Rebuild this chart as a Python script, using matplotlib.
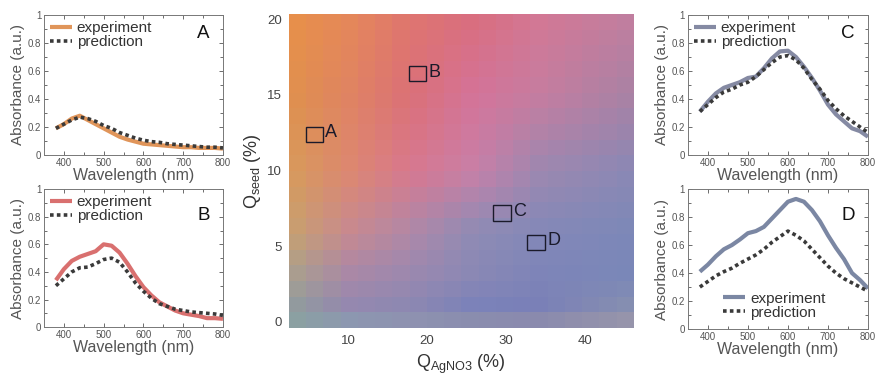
import numpy as np
import matplotlib
matplotlib.use("Agg")
import matplotlib.pyplot as plt
from matplotlib.colors import to_rgb
from matplotlib.patches import Rectangle

plt.rcParams['font.family'] = ['Liberation Sans', 'DejaVu Sans']
plt.rcParams['mathtext.fontset'] = 'custom'
plt.rcParams['mathtext.rm'] = 'Liberation Sans'
plt.rcParams['mathtext.it'] = 'Liberation Sans'

# ---------------- data ----------------
wavelength = [380, 400, 420, 440, 460, 480, 500, 520, 540, 560, 580, 600,
              620, 640, 660, 680, 700, 720, 740, 760, 780, 800]

A_exp = [0.19, 0.22, 0.26, 0.28, 0.25, 0.22, 0.19, 0.16, 0.13, 0.11, 0.095, 0.08,
         0.075, 0.07, 0.065, 0.06, 0.055, 0.055, 0.05, 0.05, 0.05, 0.045]
A_pred = [0.19, 0.22, 0.25, 0.27, 0.26, 0.24, 0.21, 0.19, 0.16, 0.14, 0.12, 0.105,
          0.095, 0.09, 0.08, 0.075, 0.07, 0.065, 0.06, 0.055, 0.055, 0.05]

B_exp = [0.34, 0.42, 0.48, 0.51, 0.53, 0.55, 0.60, 0.59, 0.54, 0.46, 0.37, 0.29,
         0.23, 0.18, 0.15, 0.12, 0.10, 0.09, 0.08, 0.065, 0.065, 0.06]
B_pred = [0.30, 0.35, 0.40, 0.43, 0.435, 0.46, 0.49, 0.50, 0.47, 0.40, 0.32, 0.26,
          0.21, 0.17, 0.15, 0.13, 0.12, 0.11, 0.105, 0.10, 0.095, 0.085]

C_exp = [0.31, 0.38, 0.44, 0.48, 0.50, 0.52, 0.55, 0.56, 0.62, 0.69, 0.74, 0.745,
         0.70, 0.63, 0.55, 0.46, 0.36, 0.29, 0.24, 0.19, 0.17, 0.13]
C_pred = [0.31, 0.36, 0.41, 0.45, 0.47, 0.50, 0.52, 0.56, 0.61, 0.66, 0.70, 0.71,
          0.68, 0.62, 0.54, 0.47, 0.39, 0.33, 0.28, 0.24, 0.20, 0.16]

D_exp = [0.41, 0.46, 0.52, 0.57, 0.60, 0.64, 0.685, 0.70, 0.73, 0.79, 0.85, 0.91,
         0.93, 0.91, 0.85, 0.77, 0.67, 0.58, 0.50, 0.40, 0.35, 0.29]
D_pred = [0.30, 0.34, 0.38, 0.41, 0.435, 0.47, 0.50, 0.53, 0.57, 0.62, 0.66, 0.70,
          0.67, 0.63, 0.57, 0.51, 0.45, 0.40, 0.36, 0.33, 0.30, 0.27]

# heatmap colour anchors (rows from top y=20 to bottom, columns left to right)
map_x = [3, 10, 18, 26, 34, 46]
map_y = [20, 15, 10, 6, 3, 1, -0.4]
map_colors = [
    ['#E8904A', '#E5885A', '#DF7570', '#D96E80', '#D37895', '#C07FA0'],
    ['#E0904E', '#E08462', '#DB7078', '#D4749A', '#C67DA0', '#A882A5'],
    ['#D89A5C', '#DD8870', '#D87890', '#C880A8', '#9E88B0', '#8A88B5'],
    ['#C8A070', '#C88A90', '#B088A8', '#8E8CB5', '#8489B8', '#7D88B8'],
    ['#A8A090', '#A888A8', '#9A88B0', '#8A88B5', '#7E84B8', '#7A88B8'],
    ['#909C9E', '#9488B0', '#8C88B2', '#7A82BA', '#7A80B8', '#8890B0'],
    ['#88A4A4', '#88A0B0', '#9098B0', '#9494A8', '#9490A8', '#A098A8'],
]

box_labels = ['A', 'B', 'C', 'D']
box_x = [4.6, 17.7, 28.4, 32.7]
box_y = [11.9, 15.9, 6.7, 4.75]
box_w = 2.2
box_h = 1.0

xticks_map = [10, 20, 30, 40]
yticks_map = [0, 5, 10, 15, 20]

# ---------------- figure ----------------
fig = plt.figure(figsize=(8.83, 3.76), dpi=100)

grey = '#555555'
pred_col = '#3a3a3a'


def spectrum_panel(rect, exp, pred, col, letter, legend_loc, letter_y):
    ax = fig.add_axes(rect)
    ax.plot(wavelength, exp, color=col, lw=3.0, solid_capstyle='butt', label='experiment')
    ax.plot(wavelength, pred, color=pred_col, lw=2.6, linestyle=(0, (1, 0.9)), label='prediction')
    ax.set_xlim(350, 800)
    ax.set_ylim(0, 1)
    ax.set_xticks([400, 500, 600, 700, 800])
    ax.set_xticks([450, 550, 650, 750], minor=True)
    ax.set_yticks([0, 0.2, 0.4, 0.6, 0.8, 1])
    ax.set_yticklabels(['0', '0.2', '0.4', '0.6', '0.8', '1'])
    ax.set_yticks(np.arange(0.1, 1.0, 0.2), minor=True)
    ax.tick_params(which='both', direction='in', top=True, right=True,
                   colors=grey, labelsize=7, width=0.6, pad=2)
    ax.tick_params(which='major', length=3)
    ax.tick_params(which='minor', length=2)
    for s in ax.spines.values():
        s.set_color('#777777')
        s.set_linewidth(0.7)
    ax.set_xlabel('Wavelength (nm)', fontsize=11.5, color=grey, labelpad=0)
    ax.set_ylabel('Absorbance (a.u.)', fontsize=11, color=grey, labelpad=2)
    ax.text(0.89, letter_y, letter, transform=ax.transAxes, fontsize=13.5,
            ha='center', va='center', color='#111111')
    if legend_loc == 'upper left':
        leg = ax.legend(loc='upper left', frameon=False, fontsize=11,
                        handlelength=1.45, handletextpad=0.3, labelspacing=0.0,
                        borderaxespad=0.15, borderpad=0.25)
    else:
        leg = ax.legend(loc='lower center', bbox_to_anchor=(0.48, -0.01), frameon=False,
                        fontsize=11, handlelength=1.45, handletextpad=0.3,
                        labelspacing=0.0, borderpad=0.2)
    for t in leg.get_texts():
        t.set_color('#333333')
    return ax


spectrum_panel([0.0498, 0.588, 0.2027, 0.372], A_exp, A_pred, '#E0955A', 'A', 'upper left', 0.87)
spectrum_panel([0.0498, 0.130, 0.2027, 0.367], B_exp, B_pred, '#D9706F', 'B', 'upper left', 0.81)
spectrum_panel([0.779, 0.588, 0.204, 0.372], C_exp, C_pred, '#858AA3', 'C', 'upper left', 0.87)
spectrum_panel([0.779, 0.125, 0.204, 0.372], D_exp, D_pred, '#7B87A3', 'D', 'lower', 0.81)

# ---------------- heatmap ----------------
axm = fig.add_axes([0.3273, 0.1277, 0.3896, 0.8351])
rgb = np.array([[to_rgb(c) for c in row] for row in map_colors])
x0, x1, y0, y1 = 2.5, 46.1, -0.4, 20.35
nx, ny = 20, 20
cx = x0 + (np.arange(nx) + 0.5) * (x1 - x0) / nx
cy = y0 + (np.arange(ny) + 0.5) * (y1 - y0) / ny
yy_src = np.array(map_y)[::-1]
rgb_up = rgb[::-1]
tmp = np.zeros((len(yy_src), nx, 3))
for i in range(len(yy_src)):
    for k in range(3):
        tmp[i, :, k] = np.interp(cx, map_x, rgb_up[i, :, k])
grid = np.zeros((ny, nx, 3))
for j in range(nx):
    for k in range(3):
        grid[:, j, k] = np.interp(cy, yy_src, tmp[:, j, k])
axm.imshow(grid, origin='lower', extent=[x0, x1, y0, y1],
           aspect='auto', interpolation='nearest')
axm.set_xlim(x0, x1)
axm.set_ylim(y0, y1)
axm.set_xticks(xticks_map)
axm.set_yticks(yticks_map)
axm.tick_params(length=0, colors='#444444', labelsize=9.5, pad=5)
for s in axm.spines.values():
    s.set_visible(False)
axm.set_xlabel(r'Q$_{\rm AgNO3}$ (%)', fontsize=13, color='#333333', labelpad=4)
axm.set_ylabel(r'Q$_{\rm seed}$ (%)', fontsize=13, color='#333333', labelpad=3)

for lab, bx, by in zip(box_labels, box_x, box_y):
    axm.add_patch(Rectangle((bx, by), box_w, box_h, fill=False,
                            edgecolor='#1a1a2a', lw=1.0))
    axm.text(bx + box_w + 0.3, by + box_h * 0.6, lab, fontsize=13,
             color='#1a1a2a', ha='left', va='center')

fig.savefig('out.png', dpi=100)
